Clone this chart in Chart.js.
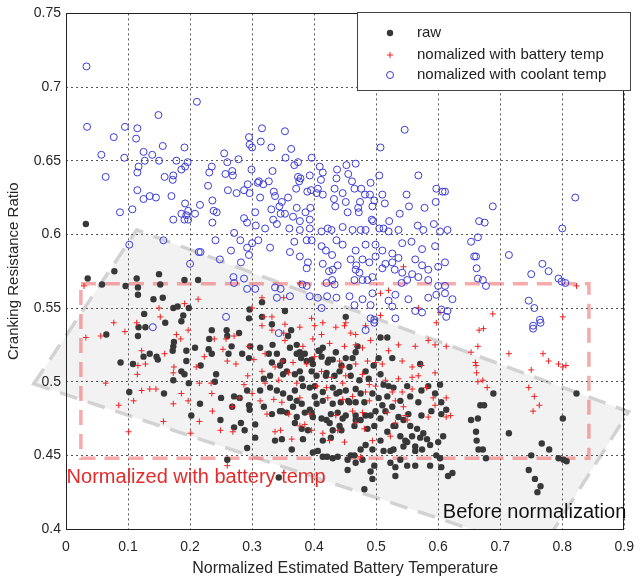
<!DOCTYPE html>
<html>
<head>
<meta charset="utf-8">
<script src="https://cdn.jsdelivr.net/npm/chart.js@4.4.0/dist/chart.umd.min.js"></script>
<style>
  html, body { margin: 0; padding: 0; background: #fff; }
  canvas { display: block; }
</style>
</head>
<body>
<canvas id="chart" width="644" height="583"></canvas>
<script>
const xTicks = [0, 0.1, 0.2, 0.3, 0.4, 0.5, 0.6, 0.7, 0.8, 0.9];
const yTicks = [0.4, 0.45, 0.5, 0.55, 0.6, 0.65, 0.7, 0.75];
const seriesNames = ["raw", "nomalized with battery temp", "nomalized with coolant temp"];

// raw (before normalization)
const rawPoints = [
  [0.032,0.607],
  [0.078,0.575],[0.035,0.570],[0.058,0.566],[0.096,0.565],[0.114,0.570],[0.116,0.564],[0.116,0.559],[0.150,0.573],[0.152,0.566],[0.141,0.556],[0.156,0.557],[0.191,0.569],[0.213,0.569],[0.126,0.546],[0.173,0.550],[0.180,0.551],[0.198,0.550],[0.189,0.545],[0.186,0.541],[0.160,0.540],[0.296,0.549],[0.295,0.543],
  [0.316,0.554],[0.353,0.548],[0.316,0.544],[0.332,0.539],[0.451,0.544],
  [0.065,0.532],[0.088,0.513],[0.108,0.512],[0.117,0.537],[0.128,0.537],[0.116,0.531],[0.125,0.517],[0.135,0.519],[0.146,0.517],[0.148,0.515],[0.173,0.524],[0.174,0.527],[0.172,0.521],[0.194,0.521],[0.194,0.514],[0.186,0.507],[0.191,0.505],[0.173,0.501],[0.198,0.499],[0.102,0.493],[0.158,0.492],[0.216,0.485],[0.202,0.477],[0.235,0.535],[0.231,0.529],[0.208,0.523],[0.230,0.522],[0.235,0.519],[0.217,0.511],[0.242,0.505],[0.240,0.500],[0.259,0.535],[0.260,0.531],[0.267,0.524],[0.279,0.533],[0.262,0.519],[0.284,0.519],[0.250,0.489],[0.271,0.490],[0.280,0.489],[0.292,0.494],[0.295,0.484],[0.296,0.481],[0.268,0.483],[0.297,0.524],[0.295,0.516],
  [0.358,0.531],[0.363,0.535],[0.333,0.525],[0.313,0.523],[0.327,0.519],[0.332,0.513],[0.340,0.519],[0.345,0.511],[0.350,0.514],[0.361,0.523],[0.372,0.525],[0.377,0.520],[0.379,0.516],[0.385,0.519],[0.396,0.515],[0.398,0.512],[0.409,0.521],[0.414,0.523],[0.412,0.517],[0.422,0.513],[0.430,0.515],[0.435,0.520],[0.451,0.516],[0.462,0.516],[0.467,0.520],[0.470,0.524],[0.457,0.510],[0.441,0.507],[0.433,0.504],[0.419,0.504],[0.404,0.504],[0.396,0.507],[0.377,0.507],[0.369,0.505],[0.350,0.505],[0.329,0.504],[0.319,0.502],[0.313,0.494],[0.329,0.496],[0.340,0.494],[0.350,0.492],[0.361,0.489],[0.369,0.494],[0.382,0.497],[0.393,0.496],[0.401,0.490],[0.414,0.493],[0.430,0.496],[0.441,0.493],[0.451,0.494],[0.467,0.495],[0.473,0.501],[0.488,0.502],[0.483,0.507],[0.496,0.511],[0.504,0.516],[0.507,0.530],[0.518,0.530],[0.526,0.516],[0.507,0.505],[0.512,0.498],[0.520,0.497],[0.528,0.496],[0.518,0.490],[0.504,0.489],[0.494,0.492],[0.481,0.486],[0.467,0.486],[0.457,0.486],[0.443,0.486],[0.430,0.485],[0.414,0.487],[0.404,0.485],[0.393,0.481],[0.380,0.485],[0.366,0.483],[0.356,0.479],[0.345,0.480],[0.332,0.478],[0.319,0.483],[0.372,0.476],[0.385,0.479],[0.398,0.476],[0.412,0.475],[0.427,0.478],[0.438,0.479],[0.451,0.477],[0.467,0.477],[0.483,0.477],[0.499,0.480],[0.510,0.484],[0.526,0.483],[0.539,0.487],[0.555,0.490],[0.568,0.486],[0.573,0.494],[0.550,0.497],[0.571,0.512],[0.584,0.497],[0.595,0.492],[0.603,0.498],[0.605,0.486],[0.536,0.476],[0.552,0.478],[0.573,0.477],[0.589,0.480],[0.605,0.478],
  [0.372,0.519],[0.388,0.514],[0.407,0.521],[0.424,0.515],[0.356,0.507],[0.380,0.502],[0.401,0.497],[0.420,0.506],[0.444,0.511],[0.459,0.504],[0.436,0.492],[0.455,0.487],[0.475,0.492],[0.372,0.487],[0.348,0.480],[0.396,0.479],[0.420,0.474],[0.444,0.467],[0.467,0.474],[0.491,0.477],[0.515,0.480],[0.531,0.470],[0.547,0.460],[0.563,0.453],[0.507,0.460],[0.523,0.453],[0.483,0.457],[0.459,0.450],[0.539,0.447],[0.563,0.443],
  [0.689,0.492],[0.823,0.492],[0.613,0.481],[0.668,0.484],[0.674,0.484],[0.664,0.475],[0.653,0.474],[0.801,0.475],
  [0.249,0.474],[0.271,0.469],[0.282,0.472],[0.288,0.467],[0.305,0.471],[0.305,0.462],[0.292,0.455],[0.260,0.447],[0.343,0.435],[0.337,0.460],[0.348,0.461],[0.364,0.454],[0.382,0.461],[0.369,0.472],[0.380,0.468],[0.398,0.452],[0.406,0.453],[0.414,0.449],[0.421,0.449],[0.430,0.448],[0.438,0.449],[0.414,0.460],[0.427,0.462],[0.430,0.467],[0.441,0.470],[0.446,0.475],[0.425,0.472],[0.390,0.467],
  [0.465,0.470],[0.475,0.474],[0.486,0.468],[0.497,0.470],[0.507,0.475],[0.518,0.466],[0.528,0.470],[0.539,0.463],[0.550,0.459],[0.558,0.463],[0.571,0.462],[0.582,0.461],[0.587,0.457],[0.574,0.454],[0.563,0.456],[0.544,0.456],[0.528,0.454],[0.512,0.453],[0.494,0.454],[0.475,0.454],[0.465,0.450],[0.454,0.447],[0.467,0.445],[0.478,0.447],[0.523,0.445],[0.531,0.442],[0.550,0.443],[0.531,0.436],[0.497,0.443],[0.491,0.439],[0.494,0.434],[0.454,0.440],[0.481,0.427],[0.587,0.443],[0.597,0.450],[0.603,0.448],[0.605,0.442],[0.616,0.436],[0.623,0.438],[0.600,0.459],[0.608,0.463],[0.576,0.465],[0.566,0.468],[0.555,0.470],[0.544,0.474],[0.661,0.466],[0.662,0.460],[0.665,0.454],[0.672,0.454],[0.677,0.448],[0.714,0.465],[0.750,0.450],[0.767,0.458],[0.779,0.454],[0.794,0.448],[0.802,0.447],[0.807,0.446],[0.746,0.440],[0.756,0.434],[0.765,0.429],[0.760,0.425]
];

// normalized with battery temp
const batteryPoints = [
  [0.029,0.565],[0.213,0.556],[0.191,0.553],[0.150,0.550],[0.152,0.544],[0.077,0.540],[0.114,0.540],[0.300,0.550],
  [0.316,0.557],[0.351,0.557],[0.377,0.567],[0.507,0.560],[0.520,0.562],[0.544,0.578],[0.568,0.550],[0.603,0.547],[0.507,0.545],[0.319,0.544],[0.332,0.544],[0.353,0.539],[0.396,0.543],[0.414,0.540],[0.451,0.540],[0.597,0.540],
  [0.823,0.565],[0.688,0.546],[0.801,0.544],
  [0.032,0.530],[0.056,0.531],[0.095,0.534],[0.122,0.521],[0.128,0.512],[0.116,0.511],[0.115,0.505],[0.159,0.519],[0.174,0.510],[0.173,0.506],[0.185,0.529],[0.178,0.532],[0.197,0.535],[0.064,0.499],[0.135,0.495],[0.145,0.495],[0.122,0.494],[0.109,0.487],[0.085,0.484],[0.173,0.485],[0.186,0.492],[0.197,0.487],[0.210,0.510],[0.215,0.499],[0.234,0.499],[0.235,0.492],[0.236,0.480],[0.223,0.517],[0.239,0.529],[0.258,0.529],[0.271,0.531],[0.260,0.514],[0.274,0.512],[0.253,0.522],[0.287,0.498],[0.293,0.504],[0.280,0.489],[0.300,0.492],[0.295,0.524],[0.303,0.515],[0.268,0.483],
  [0.316,0.538],[0.332,0.535],[0.351,0.533],[0.377,0.537],[0.401,0.538],[0.412,0.532],[0.435,0.537],[0.449,0.538],[0.459,0.533],[0.467,0.532],[0.483,0.538],[0.353,0.528],[0.382,0.524],[0.398,0.529],[0.425,0.526],[0.449,0.524],[0.467,0.525],[0.478,0.523],[0.491,0.528],[0.536,0.525],[0.563,0.524],[0.584,0.528],[0.595,0.525],[0.321,0.519],[0.348,0.514],[0.366,0.513],[0.388,0.512],[0.401,0.517],[0.441,0.514],[0.446,0.510],[0.467,0.512],[0.486,0.514],[0.499,0.513],[0.510,0.512],[0.520,0.521],[0.542,0.514],[0.558,0.510],[0.573,0.511],[0.595,0.506],[0.316,0.507],[0.337,0.510],[0.359,0.506],[0.412,0.507],[0.428,0.503],[0.451,0.504],[0.478,0.505],[0.489,0.498],[0.515,0.501],[0.536,0.502],[0.558,0.503],[0.568,0.504],[0.321,0.499],[0.343,0.501],[0.372,0.499],[0.404,0.497],[0.420,0.496],[0.446,0.499],[0.462,0.490],[0.483,0.493],[0.499,0.497],[0.526,0.493],[0.542,0.493],[0.558,0.495],[0.581,0.496],[0.592,0.489],[0.313,0.487],[0.335,0.488],[0.348,0.486],[0.377,0.489],[0.422,0.489],[0.446,0.488],[0.489,0.487],[0.531,0.487],[0.544,0.483],[0.595,0.484],[0.613,0.489],[0.324,0.478],[0.359,0.478],[0.393,0.478],[0.435,0.477],[0.462,0.480],[0.478,0.479],[0.518,0.479],[0.547,0.477],[0.584,0.476],
  [0.666,0.535],[0.673,0.536],[0.613,0.524],[0.664,0.524],[0.653,0.520],[0.660,0.513],[0.661,0.511],[0.662,0.506],[0.664,0.500],[0.672,0.501],[0.679,0.496],[0.714,0.519],[0.769,0.519],[0.778,0.514],[0.794,0.512],[0.801,0.510],[0.806,0.511],[0.750,0.508],[0.746,0.496],[0.755,0.490],[0.763,0.484],[0.753,0.480],[0.620,0.477],
  [0.101,0.466],[0.157,0.473],[0.201,0.465],[0.215,0.473],[0.249,0.467],[0.269,0.466],[0.260,0.443],[0.337,0.466],[0.346,0.467],[0.364,0.461],[0.377,0.470],[0.385,0.471],[0.396,0.467],[0.414,0.465],[0.425,0.460],[0.438,0.467],
  [0.449,0.459],[0.467,0.472],[0.481,0.468],[0.494,0.460],[0.531,0.472],[0.550,0.474],[0.613,0.476],[0.523,0.463],[0.475,0.449]
];

// normalized with coolant temp
const coolantPoints = [
  [0.033,0.714],[0.034,0.673],[0.095,0.673],[0.115,0.672],[0.149,0.681],[0.211,0.690],[0.316,0.672],[0.353,0.670],[0.546,0.671],
  [0.077,0.666],[0.113,0.665],[0.057,0.654],[0.094,0.652],[0.125,0.656],[0.156,0.660],[0.191,0.659],[0.139,0.654],[0.150,0.650],[0.127,0.650],[0.117,0.646],[0.115,0.642],[0.064,0.639],[0.159,0.639],[0.173,0.640],[0.172,0.637],[0.178,0.650],[0.196,0.649],[0.186,0.644],[0.192,0.646],[0.115,0.630],[0.135,0.626],[0.125,0.624],[0.145,0.625],[0.170,0.626],[0.087,0.615],[0.107,0.617],[0.192,0.621],[0.186,0.614],[0.197,0.616],[0.194,0.613],[0.191,0.610],[0.197,0.610],[0.173,0.610],[0.208,0.614],[0.216,0.620],[0.236,0.623],[0.238,0.616],[0.243,0.615],[0.236,0.608],[0.255,0.655],[0.260,0.649],[0.278,0.651],[0.235,0.646],[0.231,0.642],[0.229,0.633],[0.257,0.641],[0.268,0.643],[0.269,0.640],[0.299,0.644],[0.261,0.630],[0.275,0.628],[0.287,0.630],[0.293,0.634],[0.296,0.628],[0.309,0.635],[0.295,0.666],[0.296,0.661],[0.300,0.659],[0.305,0.615],[0.287,0.611],[0.292,0.608],[0.306,0.606],
  [0.314,0.663],[0.331,0.659],[0.363,0.658],[0.354,0.652],[0.368,0.647],[0.374,0.649],[0.396,0.652],[0.333,0.643],[0.327,0.636],[0.311,0.636],[0.318,0.634],[0.374,0.639],[0.378,0.638],[0.376,0.636],[0.393,0.640],[0.409,0.646],[0.414,0.642],[0.437,0.644],[0.452,0.647],[0.467,0.648],[0.455,0.641],[0.436,0.638],[0.461,0.636],[0.411,0.637],[0.406,0.631],[0.371,0.631],[0.389,0.629],[0.395,0.630],[0.404,0.628],[0.414,0.627],[0.433,0.631],[0.446,0.628],[0.465,0.631],[0.476,0.631],[0.491,0.635],[0.505,0.640],[0.507,0.659],[0.568,0.640],[0.549,0.627],[0.553,0.619],[0.510,0.627],[0.514,0.621],[0.490,0.627],[0.497,0.623],[0.474,0.622],[0.482,0.627],[0.451,0.622],[0.432,0.624],[0.434,0.619],[0.454,0.615],[0.471,0.618],[0.472,0.615],[0.494,0.619],[0.493,0.610],[0.495,0.609],[0.521,0.609],[0.538,0.614],[0.567,0.606],[0.578,0.618],[0.596,0.622],[0.597,0.631],[0.607,0.629],[0.593,0.607],[0.313,0.625],[0.335,0.629],[0.337,0.626],[0.358,0.625],[0.372,0.618],[0.348,0.622],[0.344,0.619],[0.331,0.617],[0.346,0.614],[0.353,0.614],[0.366,0.612],[0.386,0.615],[0.394,0.618],[0.393,0.610],[0.377,0.609],[0.360,0.604],[0.340,0.607],[0.334,0.610],[0.321,0.604],[0.422,0.604],[0.446,0.605],[0.462,0.603],[0.475,0.603],[0.505,0.604],[0.512,0.604],
  [0.611,0.629],[0.688,0.619],[0.666,0.609],[0.675,0.608],[0.615,0.603],[0.821,0.625],[0.800,0.604],
  [0.102,0.593],[0.157,0.596],[0.214,0.588],[0.217,0.588],[0.200,0.580],[0.241,0.596],[0.271,0.601],[0.281,0.596],[0.266,0.589],[0.248,0.583],[0.282,0.581],[0.295,0.586],[0.292,0.591],[0.300,0.594],[0.310,0.596],[0.270,0.571],[0.271,0.567],[0.287,0.570],[0.292,0.563],[0.305,0.563],[0.258,0.544],
  [0.377,0.603],[0.393,0.604],[0.412,0.602],[0.428,0.603],[0.483,0.603],[0.520,0.602],[0.536,0.603],[0.576,0.603],[0.603,0.602],[0.329,0.591],[0.361,0.588],[0.368,0.595],[0.388,0.596],[0.396,0.596],[0.412,0.592],[0.419,0.589],[0.436,0.596],[0.446,0.593],[0.429,0.586],[0.467,0.589],[0.483,0.593],[0.499,0.593],[0.510,0.589],[0.526,0.587],[0.542,0.594],[0.557,0.595],[0.574,0.590],[0.595,0.592],[0.377,0.585],[0.390,0.581],[0.388,0.577],[0.414,0.580],[0.424,0.575],[0.438,0.579],[0.430,0.576],[0.429,0.569],[0.459,0.583],[0.468,0.579],[0.478,0.583],[0.489,0.581],[0.499,0.585],[0.515,0.580],[0.526,0.581],[0.536,0.584],[0.563,0.583],[0.574,0.579],[0.584,0.576],[0.600,0.578],[0.467,0.576],[0.473,0.574],[0.494,0.571],[0.465,0.569],[0.478,0.569],[0.486,0.569],[0.510,0.577],[0.530,0.576],[0.542,0.574],[0.541,0.567],[0.550,0.569],[0.558,0.573],[0.568,0.571],[0.584,0.569],[0.600,0.565],[0.611,0.560],[0.337,0.564],[0.346,0.563],[0.381,0.566],[0.388,0.565],[0.420,0.567],[0.433,0.566],[0.393,0.558],[0.406,0.557],[0.436,0.557],[0.421,0.558],[0.457,0.558],[0.478,0.556],[0.465,0.552],[0.491,0.552],[0.494,0.560],[0.520,0.555],[0.526,0.551],[0.531,0.559],[0.552,0.556],[0.584,0.557],[0.597,0.559],[0.340,0.557],[0.361,0.558],[0.412,0.550],[0.491,0.543],[0.497,0.542],[0.531,0.543],[0.563,0.548],[0.574,0.547],[0.605,0.549],[0.613,0.544],
  [0.653,0.595],[0.664,0.598],[0.658,0.585],[0.661,0.585],[0.662,0.577],[0.664,0.570],[0.672,0.569],[0.677,0.565],[0.611,0.581],[0.611,0.565],[0.623,0.556],[0.615,0.548],[0.714,0.586],[0.750,0.573],[0.768,0.580],[0.778,0.575],[0.794,0.570],[0.799,0.568],[0.805,0.567],[0.746,0.555],[0.755,0.550],[0.764,0.542],[0.753,0.538],
  [0.140,0.537],[0.343,0.533],[0.483,0.535],[0.497,0.540],[0.753,0.536],[0.765,0.540]
];

// hand-drawn annotation regions, in data units
const beforeRegion = [[-0.052, 0.4985], [0.114, 0.603], [0.907, 0.4796], [0.7635, 0.3844]];
const afterBox = { x0: 0.024, x1: 0.843, y0: 0.448, y1: 0.5665 };

const FONT = '"Liberation Sans", Arial, sans-serif';
Chart.defaults.font.family = FONT;

const colors = { raw: "#383838", battery: "#ee2222", coolant: "#3a3ad8" };

const toXY = (pts) => pts.map(([x, y]) => ({ x, y }));

const annotations = {
  id: "annotations",
  beforeDraw(chart) {
    const { ctx, chartArea, scales: { x, y } } = chart;
    ctx.save();
    ctx.beginPath();
    ctx.rect(0, 0, chart.width, chartArea.bottom);
    ctx.clip();
    ctx.beginPath();
    beforeRegion.forEach(([vx, vy], i) => {
      const px = x.getPixelForValue(vx), py = y.getPixelForValue(vy);
      if (i === 0) ctx.moveTo(px, py); else ctx.lineTo(px, py);
    });
    ctx.closePath();
    ctx.fillStyle = "#f2f2f2";
    ctx.fill();
    ctx.setLineDash([18, 11]);
    ctx.lineWidth = 3.5;
    ctx.strokeStyle = "#d2d2d2";
    ctx.stroke();
    ctx.restore();
  },
  beforeDatasetsDraw(chart) {
    const { ctx, scales: { x, y } } = chart;
    const l = x.getPixelForValue(afterBox.x0), r = x.getPixelForValue(afterBox.x1);
    const t = y.getPixelForValue(afterBox.y1), b = y.getPixelForValue(afterBox.y0);
    ctx.save();
    ctx.setLineDash([15, 9]);
    ctx.lineWidth = 3.5;
    ctx.strokeStyle = "rgba(238, 100, 100, 0.55)";
    ctx.strokeRect(l, t, r - l, b - t);
    ctx.restore();
  },
  afterDraw(chart) {
    const { ctx, chartArea: a, scales: { x, y } } = chart;
    ctx.save();
    // axes box
    ctx.strokeStyle = "#222";
    ctx.lineWidth = 1;
    ctx.strokeRect(Math.round(a.left) + 0.5, Math.round(a.top) + 0.5, Math.round(a.width) - 1, Math.round(a.height));

    // annotation labels
    ctx.font = "20px " + FONT;
    ctx.textBaseline = "alphabetic";
    ctx.textAlign = "left";
    ctx.fillStyle = "#e42a2a";
    ctx.fillText("Normalized with battery temp", x.getPixelForValue(0.001), y.getPixelForValue(0.4312));
    ctx.fillStyle = "#111";
    ctx.fillText("Before normalization", x.getPixelForValue(0.6075), y.getPixelForValue(0.4074));

    // legend
    const lx = 357, ly = 12, lw = 273, lh = 78;
    ctx.fillStyle = "#fff";
    ctx.fillRect(lx, ly, lw, lh);
    ctx.strokeStyle = "#444";
    ctx.strokeRect(lx + 0.5, ly + 0.5, lw, lh);
    const rows = [33, 55, 75];
    const mx = 390;
    ctx.font = "15px " + FONT;
    ctx.textBaseline = "middle";
    rows.forEach((ry, i) => {
      ctx.beginPath();
      if (i === 0) {
        ctx.fillStyle = colors.raw;
        ctx.arc(mx, ry, 3.2, 0, Math.PI * 2);
        ctx.fill();
      } else if (i === 1) {
        ctx.strokeStyle = colors.battery;
        ctx.lineWidth = 1;
        ctx.moveTo(mx - 3, ry); ctx.lineTo(mx + 3, ry);
        ctx.moveTo(mx, ry - 3); ctx.lineTo(mx, ry + 3);
        ctx.stroke();
      } else {
        ctx.strokeStyle = colors.coolant;
        ctx.lineWidth = 1;
        ctx.arc(mx, ry, 3.5, 0, Math.PI * 2);
        ctx.stroke();
      }
      ctx.fillStyle = "#222";
      ctx.fillText(seriesNames[i], 417, ry);
    });
    ctx.restore();
  }
};

new Chart(document.getElementById("chart"), {
  type: "scatter",
  data: {
    datasets: [
      {
        label: seriesNames[0], data: toXY(rawPoints), order: 3,
        pointStyle: "circle", pointRadius: 3.2, pointBorderWidth: 0,
        pointBackgroundColor: colors.raw, pointBorderColor: colors.raw,
      },
      {
        label: seriesNames[1], data: toXY(batteryPoints), order: 2,
        pointStyle: "cross", pointRadius: 3, pointBorderWidth: 1,
        pointBorderColor: colors.battery, pointBackgroundColor: colors.battery,
      },
      {
        label: seriesNames[2], data: toXY(coolantPoints), order: 1,
        pointStyle: "circle", pointRadius: 3.5, pointBorderWidth: 1,
        pointBorderColor: colors.coolant, pointBackgroundColor: "rgba(0,0,0,0)",
      },
    ],
  },
  options: {
    responsive: false,
    animation: false,
    layout: { padding: { left: 0, right: 12, top: 10, bottom: 0 } },
    plugins: { legend: { display: false }, tooltip: { enabled: false } },
    scales: {
      x: {
        type: "linear", min: 0, max: 0.9,
        afterBuildTicks: (s) => { s.ticks = xTicks.map((v) => ({ value: v })); },
        afterFit: (s) => { s.height = 54; },
        grid: { color: "#555", lineWidth: 1, drawTicks: false },
        border: { display: false, dash: [2, 3] },
        ticks: { padding: 10, color: "#262626", font: { size: 14 }, maxRotation: 0, callback: (v) => String(+v.toFixed(2)) },
        title: { display: true, text: "Normalized Estimated Battery Temperature", color: "#262626", font: { size: 16 }, padding: { top: 0, bottom: 5 } },
      },
      y: {
        type: "linear", min: 0.4, max: 0.75,
        afterBuildTicks: (s) => { s.ticks = yTicks.map((v) => ({ value: v })); },
        afterFit: (s) => { s.width = 66; },
        grid: { color: "#555", lineWidth: 1, drawTicks: false },
        border: { display: false, dash: [2, 3] },
        ticks: { padding: 5, color: "#262626", font: { size: 14 }, callback: (v) => String(+v.toFixed(2)) },
        title: { display: true, text: "Cranking Resistance Ratio", color: "#262626", font: { size: 15 }, padding: { top: 5, bottom: 0 } },
      },
    },
  },
  plugins: [annotations],
});
</script>
</body>
</html>
